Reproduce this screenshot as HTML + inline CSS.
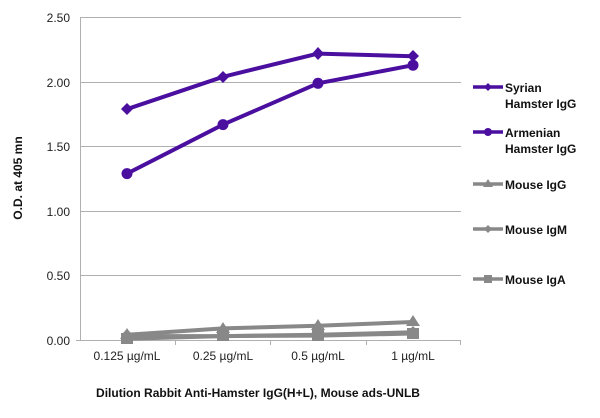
<!DOCTYPE html>
<html><head><style>body{margin:0;background:#fff}svg{display:block}text{font-family:"Liberation Sans",sans-serif}</style></head><body>
<svg width="600" height="418" xmlns="http://www.w3.org/2000/svg">
<g stroke="#b0b0b0" stroke-width="1">
<line x1="80" y1="17.5" x2="461" y2="17.5"/><line x1="80" y1="82.5" x2="461" y2="82.5"/><line x1="80" y1="146.5" x2="461" y2="146.5"/><line x1="80" y1="211.5" x2="461" y2="211.5"/><line x1="80" y1="275.5" x2="461" y2="275.5"/>
<line x1="80.5" y1="17" x2="80.5" y2="340"/><line x1="76" y1="340.5" x2="461" y2="340.5"/>
<line x1="175.5" y1="340" x2="175.5" y2="345"/><line x1="270.5" y1="340" x2="270.5" y2="345"/><line x1="366.5" y1="340" x2="366.5" y2="345"/><line x1="460.5" y1="340" x2="460.5" y2="345"/>
</g>
<g font-size="12" fill="#222" text-anchor="end">
<text x="70" y="22">2.50</text><text x="70" y="87">2.00</text><text x="70" y="151">1.50</text><text x="70" y="216">1.00</text><text x="70" y="280">0.50</text><text x="70" y="345">0.00</text>
</g>
<g font-size="12" fill="#222" text-anchor="middle">
<text x="127" y="360">0.125 µg/mL</text><text x="223" y="360">0.25 µg/mL</text><text x="318" y="360">0.5 µg/mL</text><text x="413" y="360">1 µg/mL</text>
</g>
<text x="258" y="397" font-size="12" font-weight="bold" text-anchor="middle" fill="#111">Dilution Rabbit Anti-Hamster IgG(H+L), Mouse ads-UNLB</text>
<text transform="translate(22,178) rotate(-90)" font-size="12" font-weight="bold" text-anchor="middle" fill="#111">O.D. at 405 mn</text>
<g fill="none" stroke-width="4" stroke-linejoin="round">
<polyline stroke="#888" points="127,338.7 223,336.1 318,335.6 413,333.5"/>
<polyline stroke="#888" points="127,336.1 223,336.1 318,334.8 413,332.3"/>
<polyline stroke="#888" points="127,334.8 223,328.4 318,325.8 413,322"/>
<polyline stroke="#4b0fa0" points="127,173.6 223,124.6 318,83.3 413,65.2"/>
<polyline stroke="#4b0fa0" points="127,109.1 223,76.8 318,53.6 413,56.2"/>
</g>
<g fill="#888">
<rect x="121" y="333" width="12" height="11"/><rect x="217" y="330" width="12" height="11"/><rect x="312" y="330" width="12" height="11"/><rect x="407" y="328" width="12" height="11"/>
<polygon points="127,329 133,335 127,341 121,335"/><polygon points="223,329 229,335 223,341 217,335"/><polygon points="318,328 324,334 318,340 312,334"/><polygon points="413,326 419,332 413,338 407,332"/>
<polygon points="127,328 134,339 120,339"/><polygon points="223,322 230,333 216,333"/><polygon points="318,319 325,330 311,330"/><polygon points="413,315 420,326 406,326"/>
</g>
<g fill="#4b0fa0">
<circle cx="127" cy="173.6" r="5.5"/><circle cx="223" cy="124.6" r="5.5"/><circle cx="318" cy="83.3" r="5.5"/><circle cx="413" cy="65.2" r="5.5"/>
<polygon points="127,103 133,109 127,115 121,109"/><polygon points="223,71 229,77 223,83 217,77"/><polygon points="318,47 324,53.6 318,60 312,53.6"/><polygon points="413,50 419,56 413,62 407,56"/>
</g>
<g stroke-width="3.5">
<line x1="473" y1="87" x2="503" y2="87" stroke="#4b0fa0"/><line x1="473" y1="132" x2="503" y2="132" stroke="#4b0fa0"/>
<line x1="473" y1="184" x2="503" y2="184" stroke="#888"/><line x1="473" y1="229" x2="503" y2="229" stroke="#888"/><line x1="473" y1="279" x2="503" y2="279" stroke="#888"/>
</g>
<polygon points="488,83 492,87 488,91 484,87" fill="#4b0fa0"/><circle cx="488" cy="132" r="4" fill="#4b0fa0"/>
<polygon points="488,179 493,187 483,187" fill="#888"/><polygon points="488,225 492,229 488,233 484,229" fill="#888"/><rect x="484" y="275" width="8" height="8" fill="#888"/>
<g font-size="12" font-weight="bold" fill="#111">
<text x="505" y="92">Syrian</text><text x="505" y="108">Hamster IgG</text>
<text x="505" y="137">Armenian</text><text x="505" y="153">Hamster IgG</text>
<text x="505" y="189">Mouse IgG</text><text x="505" y="234">Mouse IgM</text><text x="505" y="284">Mouse IgA</text>
</g>
</svg>
</body></html>
